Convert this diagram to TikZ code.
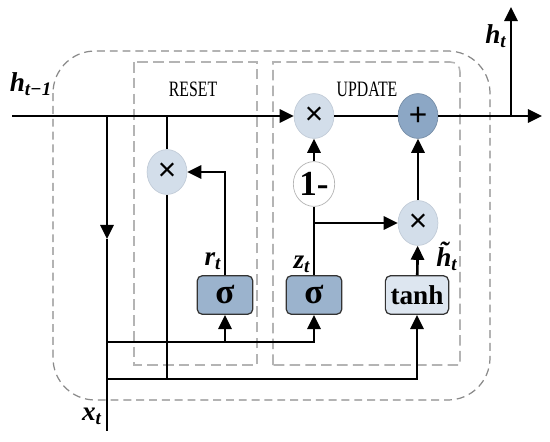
\documentclass[tikz,border=0pt]{standalone}
\usepackage{fontspec}
\setmainfont{Liberation Serif}
\newfontfamily\symfont{Liberation Sans}
\usetikzlibrary{arrows.meta,shapes.geometric}

\definecolor{multfill}{HTML}{D3DEEA}
\definecolor{multedge}{HTML}{C2CCD8}
\definecolor{addfill}{HTML}{8CA7C5}
\definecolor{sigfill}{HTML}{9BB3CD}
\definecolor{tanhfill}{HTML}{DDE6F0}
\definecolor{boxgray}{HTML}{8A8A8A}
\definecolor{innergray}{HTML}{B4B4B4}

\tikzset{
  wire/.style={line width=1.5pt},
  arr/.style={wire,-{Triangle[length=8pt,width=7.5pt]}},
  mult/.style={ellipse,draw=multedge,fill=multfill,minimum width=22.7pt,minimum height=25.5pt,inner sep=0pt,font=\symfont\fontsize{18}{18}\selectfont},
  addnode/.style={mult,fill=addfill,draw=addfill!85!black},
  onenode/.style={ellipse,draw=innergray,fill=white,minimum width=22.7pt,minimum height=25.5pt,inner sep=0pt,font=\bfseries\fontsize{20}{20}\selectfont},
  gate/.style={draw=black!80,line width=0.7pt,rounded corners=3pt,fill=sigfill,minimum width=31.7pt,minimum height=22pt,inner sep=0pt,font=\bfseries\fontsize{20}{20}\selectfont},
  tanhbox/.style={gate,fill=tanhfill,minimum width=36pt,font=\bfseries\fontsize{15.5}{15.5}\selectfont},
  lbl/.style={font=\bfseries\itshape\fontsize{15.5}{17}\selectfont,inner sep=0pt},
  title/.style={font=\fontsize{12.5}{14}\selectfont,inner sep=0pt},
}

\begin{document}
\begin{tikzpicture}[x=0.02cm,y=-0.02cm]
  \useasboundingbox (0,0) rectangle (550,442);

  % frames
  \draw[boxgray,line width=0.7pt,dash pattern=on 4.5pt off 2.8pt,rounded corners=24pt] (53,51) rectangle (490,400);
  \draw[innergray,line width=0.9pt,dash pattern=on 6pt off 3pt] (134,62) rectangle (257,365);
  \draw[innergray,line width=0.9pt,dash pattern=on 6pt off 3pt] (273,365) -- (273,62) -- (450,62) .. controls (456,62) and (460,66) .. (460,72) -- (460,365) -- cycle;
  \node[title] (reset) at (193,89) {\scalebox{0.72}[1]{RESET}};
  \node[title] (update) at (367,89) {\scalebox{0.72}[1]{UPDATE}};

  % operations
  \node[mult] (rmul) at (167,172) {×};
  \node[mult] (umul) at (314,116) {×};
  \node[addnode] (add) at (418,116) {+};
  \node[onenode] (onem) at (314,184) {1-};
  \node[mult] (hmul) at (418,223) {×};
  \node[gate] (rsig) at (225,295) {σ};
  \node[gate] (zsig) at (314,295) {σ};
  \node[tanhbox] (tanh) at (417,295) {tanh};

  % labels
  \node[lbl] (hprev) at (31,84) {h\textsubscript{t−1}};
  \node[lbl] (hnow) at (496,36) {h\textsubscript{t}};
  \node[lbl] (xin) at (92,416) {x\textsubscript{t}};
  \node[lbl] (rlbl) at (213,261) {r\textsubscript{t}};
  \node[lbl] (zlbl) at (302,264) {z\textsubscript{t}};
  \node[lbl] (hcand) at (447,256) {\~{h}\textsubscript{t}};

  \coordinate (start) at (12,116);
  \coordinate (jl) at (107,116);
  \coordinate (jr) at (167,116);
  \coordinate (mid) at (107,239);
  \coordinate (xb) at (107,431);
  \coordinate (ya) at (107,342);
  \coordinate (yb) at (107,379);
  \coordinate (yr) at (167,379);
  \coordinate (zb) at (314,223);
  \coordinate (hout) at (511,116);
  \coordinate (htop) at (511,7);
  \coordinate (out) at (542,116);

  % wires
  \draw[arr] (start) -- (umul);
  \draw[wire] (umul) -- (add);
  \draw[arr] (add) -- (out);
  \draw[arr] (hout) -- (htop);
  \draw[arr] (jl) -- (mid);
  \draw[wire] (mid) -- (xb);
  \draw[wire] (jr) -- (rmul);
  \draw[wire] (rmul) -- (yr);
  \draw[arr] (ya) -| (zsig);
  \draw[arr] (ya -| rsig) -- (rsig);
  \draw[arr] (yb) -| (tanh);
  \draw[arr] (rsig) |- (rmul);
  \draw[wire] (zsig) -- (onem);
  \draw[arr] (onem) -- (umul);
  \draw[arr] (zb) -- (hmul);
  \draw[arr] (tanh) -- (hmul);
  \draw[arr] (hmul) -- (add);
\end{tikzpicture}
\end{document}
